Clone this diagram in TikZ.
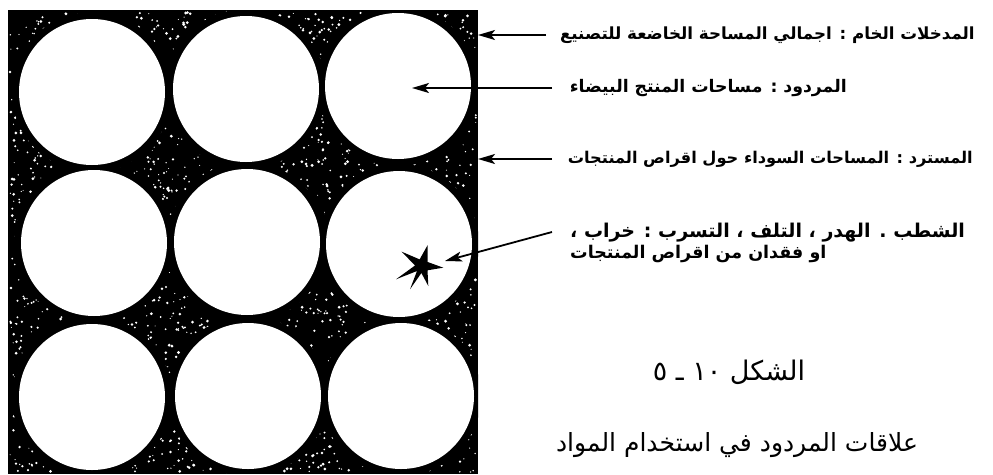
\documentclass[tikz,border=0pt]{standalone}
\usepackage{fontspec}
\newfontfamily\arabicfont[Script=Arabic]{DejaVu Sans}
\TeXXeTstate=1
\usetikzlibrary{arrows.meta}
\begin{document}
\begin{tikzpicture}[x=1pt,y=-1pt,
  disc/.style={circle,fill=white,inner sep=0pt,minimum size=146pt},
  lbl/.style={font={\arabicfont\bfseries\fontsize{#1}{#1}\selectfont},inner sep=0pt},
  capt/.style={font={\arabicfont\fontsize{#1}{#1}\selectfont},inner sep=0pt},
  arr/.style={line width=1.8pt,-{Stealth[length=17pt,width=10pt,inset=4pt]}}]
\useasboundingbox (0,0) rectangle (993,474);
% black board
\fill[black] (8,10) rectangle (478,473.5);
\begin{scope}
\clip (8,10) rectangle (478,473.5);
% speckles
\pgfmathsetseed{7}
\foreach \i in {1,...,3200}{
  \pgfmathsetmacro\px{10+466*rnd}
  \pgfmathsetmacro\py{12+460*rnd}
  \pgfmathsetmacro\pr{0.5+1.1*rnd}
  \fill[white] (\px,\py) circle (\pr);
}
% black halo around discs
\foreach \cx/\cy in {92/92,246/89,398/86,94/243,247/242,399/244,92/397,248/396,401/396}
  \fill[black] (\cx,\cy) circle (80);
\end{scope}
% discs
\node[disc] (c1) at (92,92) {};
\node[disc] (c2) at (246,89) {};
\node[disc] (c3) at (398,86) {};
\node[disc] (c4) at (94,243) {};
\node[disc] (c5) at (247,242) {};
\node[disc] (c6) at (399,244) {};
\node[disc] (c7) at (92,397) {};
\node[disc] (c8) at (248,396) {};
\node[disc] (c9) at (401,396) {};
% star (loss)
\fill[black] (427.7,245) -- (427.7,262) -- (443.3,267.7) -- (427.5,270.3) -- (428.3,286)
  -- (421.4,273) -- (410,289.3) -- (417,271) -- (396,279.3) -- (415,265.5) -- (401.7,251.7)
  -- (419.6,259.4) -- cycle;
% labels
\node[lbl=16.7,anchor=east] (t1) at (975,35) {\beginR المدخلات الخام : اجمالي المساحة الخاضعة للتصنيع\endR};
\node[lbl=17.3,anchor=east] (t2) at (847,88) {\beginR المردود : مساحات المنتج البيضاء\endR};
\node[lbl=16.2,anchor=east] (t3) at (973,159) {\beginR المسترد : المساحات السوداء حول اقراص المنتجات\endR};
\node[lbl=19,anchor=west] (t4a) at (570,233) {\beginR الشطب . الهدر ، التلف ، التسرب : خراب ،\endR};
\node[lbl=17.5,anchor=west] (t4b) at (570,254) {\beginR او فقدان من اقراص المنتجات\endR};
% arrow ends
\coordinate (s1) at (546,35);  \coordinate (e1) at (478,35);
\coordinate (s2) at (552,88);  \coordinate (e2) at (412,88);
\coordinate (s3) at (552,159); \coordinate (e3) at (478,159);
\coordinate (s4) at (552,232); \coordinate (e4) at (445,261);
\draw[arr] (s1) -- (e1);
\draw[arr] (s2) -- (e2);
\draw[arr] (s3) -- (e3);
\draw[arr] (s4) -- (e4);
% caption
\node[capt=27] (f1) at (729,372) {\beginR الشكل ١٠ ـ ٥\endR};
\node[capt=25] (f2) at (737,445) {\beginR علاقات المردود في استخدام المواد\endR};
\end{tikzpicture}
\end{document}
